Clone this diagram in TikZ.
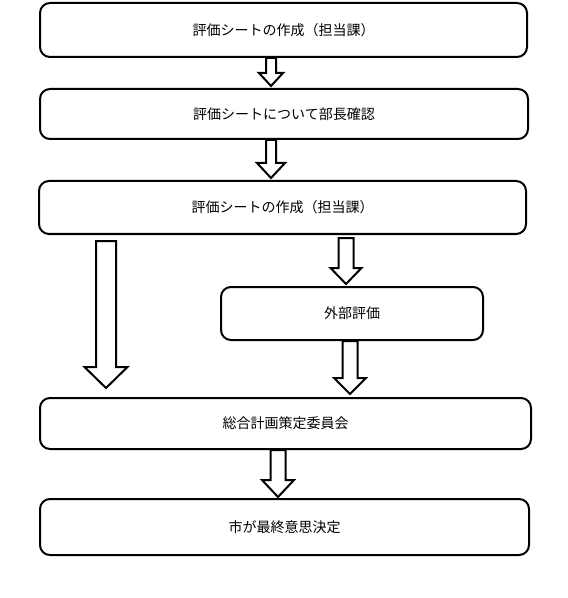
\documentclass[tikz,border=0pt]{standalone}
\usepackage{fontspec}
\usepackage{tikz}
\usetikzlibrary{calc}
\newfontfamily\jpfont{Noto Sans CJK JP}
\tikzset{box/.style = {draw, rounded corners=7.5pt, line width=1.5pt, inner sep=0pt,
                       font=\jpfont\fontsize{10.5}{12}\selectfont},
         blockline/.style = {draw, line width=1.5pt, fill=white, line join=miter}}
% hollow arrow: start, tip, shaft half width, head half width, head length
\newcommand{\blockarrow}[5]{%
  \draw [blockline] ($(#1)+(-#3,0)$) -- ($(#2)+(-#3,-#5)$) -- ($(#2)+(-#4,-#5)$) -- (#2)
    -- ($(#2)+(#4,-#5)$) -- ($(#2)+(#3,-#5)$) -- ($(#1)+(#3,0)$) -- cycle;
}

\begin{document}
\begin{tikzpicture}[x=0.75pt, y=-0.75pt]
    \useasboundingbox (0, 0) rectangle (567, 598);

    \node [box, minimum width=487*0.75pt, minimum height=54*0.75pt] (sheet) at (283.5, 30) {評価シートの作成（担当課）};
    \node [box, minimum width=488*0.75pt, minimum height=50*0.75pt] (check) at (284, 114) {評価シートについて部長確認};
    \node [box, minimum width=487*0.75pt, minimum height=53*0.75pt] (sheettwo) at (282.5, 207.5) {評価シートの作成（担当課）};
    \node [box, minimum width=262*0.75pt, minimum height=53*0.75pt] (outside) at (352, 313.5) {外部評価};
    \node [box, minimum width=491*0.75pt, minimum height=51*0.75pt] (committee) at (285.5, 423.5) {総合計画策定委員会};
    \node [box, minimum width=489*0.75pt, minimum height=56*0.75pt] (decision) at (284.5, 527) {市が最終意思決定};

    \coordinate (aas) at (271, 0 |- sheet.south);
    \coordinate (aat) at ($(271, 0 |- check.north)+(0, -2)$);
    \coordinate (abs) at (271, 0 |- check.south);
    \coordinate (abt) at ($(271, 0 |- sheettwo.north)+(0, -2)$);
    \coordinate (acs) at ($(346, 0 |- sheettwo.south)+(0, 3)$);
    \coordinate (act) at ($(346, 0 |- outside.north)+(0, -2)$);
    \coordinate (ads) at ($(106, 0 |- sheettwo.south)+(0, 6)$);
    \coordinate (adt) at ($(106, 0 |- committee.north)+(0, -9)$);
    \coordinate (aes) at (350, 0 |- outside.south);
    \coordinate (aet) at ($(350, 0 |- committee.north)+(0, -3)$);
    \coordinate (afs) at (278, 0 |- committee.south);
    \coordinate (aft) at ($(278, 0 |- decision.north)+(0, -1)$);

    \blockarrow{aas}{aat}{5}{12}{13}
    \blockarrow{abs}{abt}{5}{14}{15}
    \blockarrow{acs}{act}{7.5}{15.5}{16}
    \blockarrow{ads}{adt}{10}{21.5}{21}
    \blockarrow{aes}{aet}{7.5}{16}{16}
    \blockarrow{afs}{aft}{7.5}{16}{17}
  \end{tikzpicture}
\end{document}
